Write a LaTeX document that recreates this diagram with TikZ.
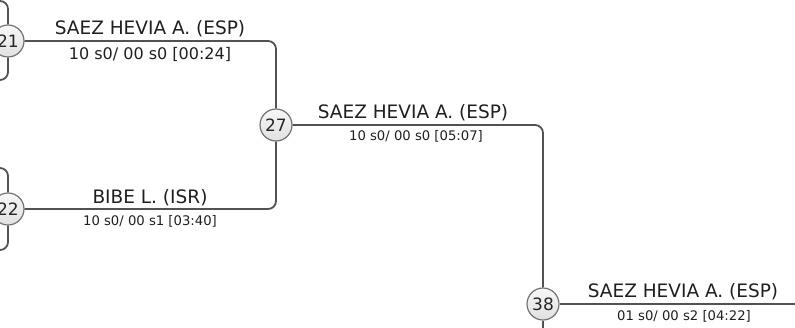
\documentclass[tikz,border=0pt]{standalone}
\usepackage{fontspec}
\setmainfont{DejaVu Sans}

\begin{document}
\begin{tikzpicture}
  [x=1pt,y=-1pt,
   match/.style={circle,draw=black!55,line width=1.2pt,top color=gray!6,bottom color=gray!24,
     minimum size=32pt,inner sep=0pt,font=\fontsize{17}{17}\selectfont,text=black!85},
   link/.style={draw=black!68,line width=1.8pt,rounded corners=8pt},
   player/.style={anchor=base,font=\fontsize{18.5}{20}\selectfont,text=black!88},
   score/.style={anchor=base,font=\fontsize{13.2}{14}\selectfont,text=black!88}]
  \useasboundingbox (0,0) rectangle (795,327);
  \clip (0,0) rectangle (795,327);

  % free ends outside the page
  \coordinate (a21) at (-30,1);
  \coordinate (b21) at (-30,80);
  \coordinate (a22) at (-30,168);
  \coordinate (b22) at (-30,250);
  \coordinate (out) at (810,304);
  \coordinate (down) at (543,340);

  \node[match] (21) at (8,41)   {21};
  \node[match] (22) at (8,209)  {22};
  \node[match] (27) at (276,125) {27};
  \node[match] (38) at (543,304) {38};

  \foreach \from/\to in {a21/21.north,b21/21.south,a22/22.north,b22/22.south,
                         21.east/27.north,22.east/27.south,27.east/38.north}
    \draw[link] (\from) -| (\to);
  \draw[link] (38.east) -- (out);
  \draw[link] (38.south) -- (down);

  \node[player] (n21) at (150,34)  {SAEZ HEVIA A. (ESP)};
  \node[score,font=\fontsize{16}{17}\selectfont] (s21) at (150,59) {10 s0/ 00 s0 [00:24]};
  \node[player] (n22) at (150,203) {BIBE L. (ISR)};
  \node[score] (s22) at (150,225) {10 s0/ 00 s1 [03:40]};
  \node[player] (n27) at (413,118) {SAEZ HEVIA A. (ESP)};
  \node[score] (s27) at (416,140) {10 s0/ 00 s0 [05:07]};
  \node[player] (n38) at (683,297) {SAEZ HEVIA A. (ESP)};
  \node[score] (s38) at (684,320) {01 s0/ 00 s2 [04:22]};

\end{tikzpicture}
\end{document}
